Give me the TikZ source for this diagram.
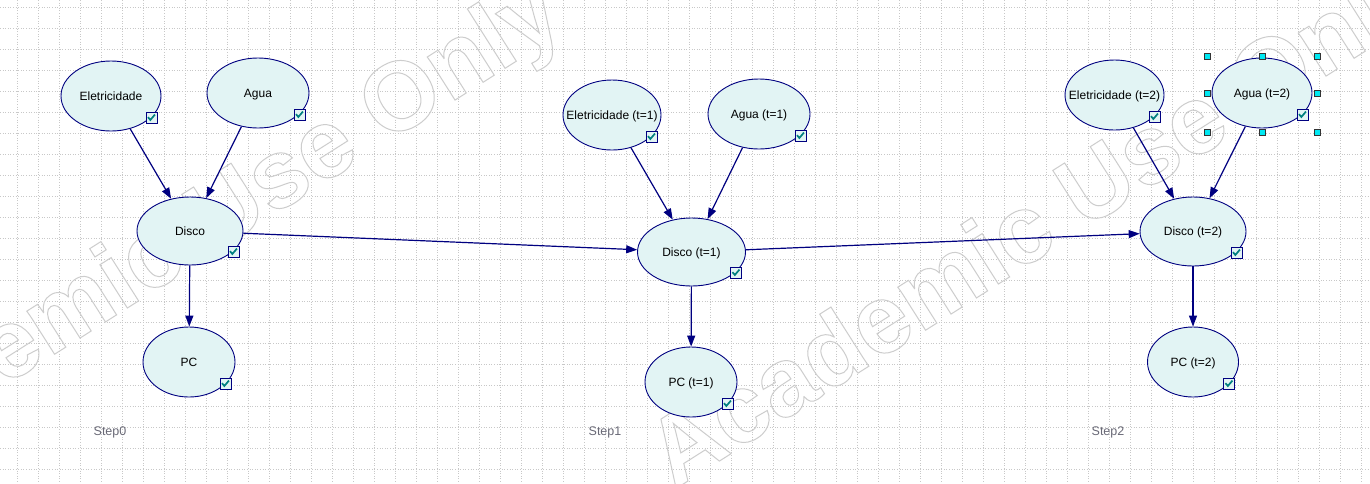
\documentclass[tikz,border=0pt]{standalone}
\usepackage{fontspec}
\setmainfont{Liberation Sans}
\usetikzlibrary{shapes.geometric,arrows.meta,calc}

\definecolor{nodefill}{RGB}{226,244,244}
\definecolor{edgeblue}{RGB}{0,0,128}
\definecolor{checkteal}{RGB}{0,128,128}
\definecolor{gridgray}{RGB}{200,200,200}
\definecolor{markgray}{RGB}{205,205,205}
\definecolor{steptext}{RGB}{105,105,118}
\definecolor{handlecyan}{RGB}{0,232,242}

% zero-width label so the ellipse keeps its own size
\newcommand\ctr[1]{\makebox[0pt]{#1}}
% outlined (stroked, unfilled) text
\newcommand\hollow[1]{\special{pdf:literal direct 1 Tr 1 w}#1\special{pdf:literal direct 0 Tr}}

\begin{document}
\begin{tikzpicture}[x=1pt,y=-1pt,
  gridline/.style={gridgray, line width=0.8pt, dash pattern=on 1pt off 1.6pt},
  watermark/.style={text=markgray, rotate=32.4, inner sep=0pt,
    font=\fontsize{97}{97}\selectfont\bfseries},
  bnode/.style 2 args={ellipse, draw=edgeblue, line width=0.9pt, fill=nodefill,
    inner sep=0pt, minimum width=#1, minimum height=#2,
    font=\fontsize{12}{14}\selectfont, text height=8.6pt, text depth=0pt},
  edge/.style={draw=edgeblue, line width=1.2pt,
    -{Triangle[length=11pt,width=8pt]}},
  chkbox/.style={draw=edgeblue, line width=0.8pt, fill=nodefill,
    minimum size=11pt, inner sep=0pt,
    path picture={\draw[checkteal, line width=1.7pt]
      ($(path picture bounding box.center)+(-3.5,-0.3)$) -- ++(2.4,2.8) -- ++(4.6,-5.4);}},
  handle/.style={draw=black!80, line width=0.7pt, fill=handlecyan,
    minimum size=6pt, inner sep=0pt},
  steplabel/.style={text=steptext, font=\fontsize{12.5}{14}\selectfont,
    text height=9pt, text depth=0pt, inner sep=0pt}
]
\useasboundingbox (0,0) rectangle (1370,483);
\clip (0,0) rectangle (1370,483);
\fill[white] (0,0) rectangle (1370,483);

% dotted background grid
\foreach \i in {0,...,64} \draw[gridline] ({17.5+21*\i},0) -- ({17.5+21*\i},483);
\foreach \j in {0,...,22} \draw[gridline] (0,{7+21*\j}) -- (1370,{7+21*\j});

% watermark
\node[watermark] (wm1) at (172,250) {\hollow{Academic Use Only}};
\node[watermark] (wm2) at (1043,226) {\hollow{Academic Use Only}};

% Step 0
\node[bnode={100pt}{70pt}] (e0) at (111,96)  {\ctr{Eletricidade}};
\node[bnode={102pt}{70pt}] (a0) at (258,93)  {\ctr{Agua}};
\node[bnode={106pt}{68pt}] (d0) at (190,231) {\ctr{Disco}};
\node[bnode={92pt}{70pt}]  (p0) at (189,362) {\ctr{PC}};
% Step 1
\node[bnode={98pt}{70pt}]  (e1) at (612,115)   {\ctr{Eletricidade (t=1)}};
\node[bnode={102pt}{70pt}] (a1) at (759,114)   {\ctr{Agua (t=1)}};
\node[bnode={108pt}{68pt}] (d1) at (691.5,252) {\ctr{Disco (t=1)}};
\node[bnode={92pt}{70pt}]  (p1) at (691,382)   {\ctr{PC (t=1)}};
% Step 2
\node[bnode={99pt}{70pt}]  (e2) at (1114.5,95)  {\ctr{Eletricidade (t=2)}};
\node[bnode={100pt}{70pt}] (a2) at (1262,93)    {\ctr{Agua (t=2)}};
\node[bnode={106pt}{69pt}] (d2) at (1193,231.5) {\ctr{Disco (t=2)}};
\node[bnode={91pt}{70pt}]  (p2) at (1193,362)   {\ctr{PC (t=2)}};

% arcs
\draw[edge] (e0) -- (d0);
\draw[edge] (a0) -- (d0);
\draw[edge] (d0) -- (p0);
\draw[edge] (e1) -- (d1);
\draw[edge] (a1) -- (d1);
\draw[edge] (d1) -- (p1);
\draw[edge] (e2) -- (d2);
\draw[edge] (a2) -- (d2);
\draw[edge] (d2) -- (p2);
\draw[edge] (d0) -- (d1);
\draw[edge] (d1) -- (d2);

% check boxes at the lower right of each node
\foreach \n in {e0,a0,d0,p0,e1,a1,d1,p1,e2,a2,d2,p2}
  \node[chkbox] (\n c) at ($(\n.east|-\n.south)+(-10,-14)$) {};

% selection handles around the selected node
\foreach \hx/\hy [count=\k] in {-55/-37,0/-37,55/-37,-55/0,55/0,-55/39,0/39,55/39}
  \node[handle] (h\k) at ($(a2)+(\hx,\hy)$) {};

% time-slice labels
\node[steplabel] (s0) at (110,431)  {Step0};
\node[steplabel] (s1) at (605,431)  {Step1};
\node[steplabel] (s2) at (1108,431) {Step2};
\end{tikzpicture}
\end{document}
